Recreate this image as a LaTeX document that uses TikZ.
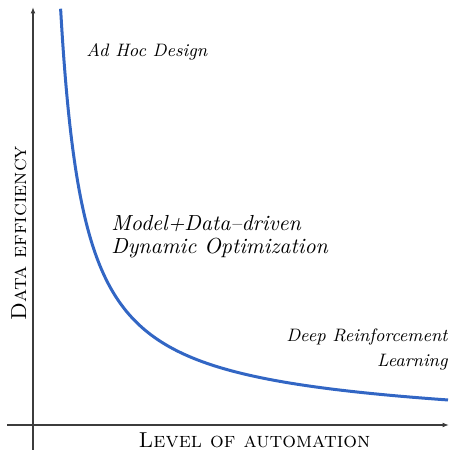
\documentclass[tikz,border=0pt]{standalone}
\usepackage{fontspec}
\usetikzlibrary{arrows.meta}
\definecolor{curveblue}{RGB}{50,102,196}
\definecolor{axisgray}{RGB}{60,60,60}
\begin{document}
\begin{tikzpicture}[x=0.5pt,y=-0.5pt,
  axis/.style={draw=axisgray,line width=0.7pt,-{Latex[length=3.2pt,width=2.4pt]}},
  curve/.style={draw=curveblue,line width=1.5pt},
  lbl/.style={font=\fontsize{9}{13}\selectfont\itshape,inner sep=0pt},
  biglbl/.style={font=\fontsize{10.9}{12}\selectfont\itshape,inner sep=0pt},
  axlbl/.style={font=\fontsize{10.8}{12}\selectfont\scshape,inner sep=0pt}]
\useasboundingbox (0,0) rectangle (450,450);
\coordinate (ybot) at (33,450);
\coordinate (ytop) at (33,7);
\coordinate (xleft) at (7,425);
\coordinate (xright) at (449,425);
\draw[axis] (ybot) -- (ytop);
\draw[axis] (xleft) -- (xright);
\draw[curve] plot[domain=27.6:415, samples=250, smooth] ({\x+33},{425-(8+9551/(\x-4.23)-0.015*\x)});
\node[lbl, anchor=base west] (adhoc) at (86,56.5) {Ad Hoc Design};
\node[biglbl, anchor=base west] (mdd1) at (111,230) {Model+Data--driven};
\node[biglbl, anchor=base west] (mdd2) at (111,253) {Dynamic Optimization};
\node[lbl, anchor=base east] (drl1) at (448,341) {Deep Reinforcement};
\node[lbl, anchor=base east] (drl2) at (448,366) {Learning};
\node[axlbl, anchor=base] (xl) at (254.5,447) {Level of automation};
\node[axlbl, anchor=base, rotate=90] (yl) at (26,233) {Data efficiency};
\end{tikzpicture}
\end{document}
